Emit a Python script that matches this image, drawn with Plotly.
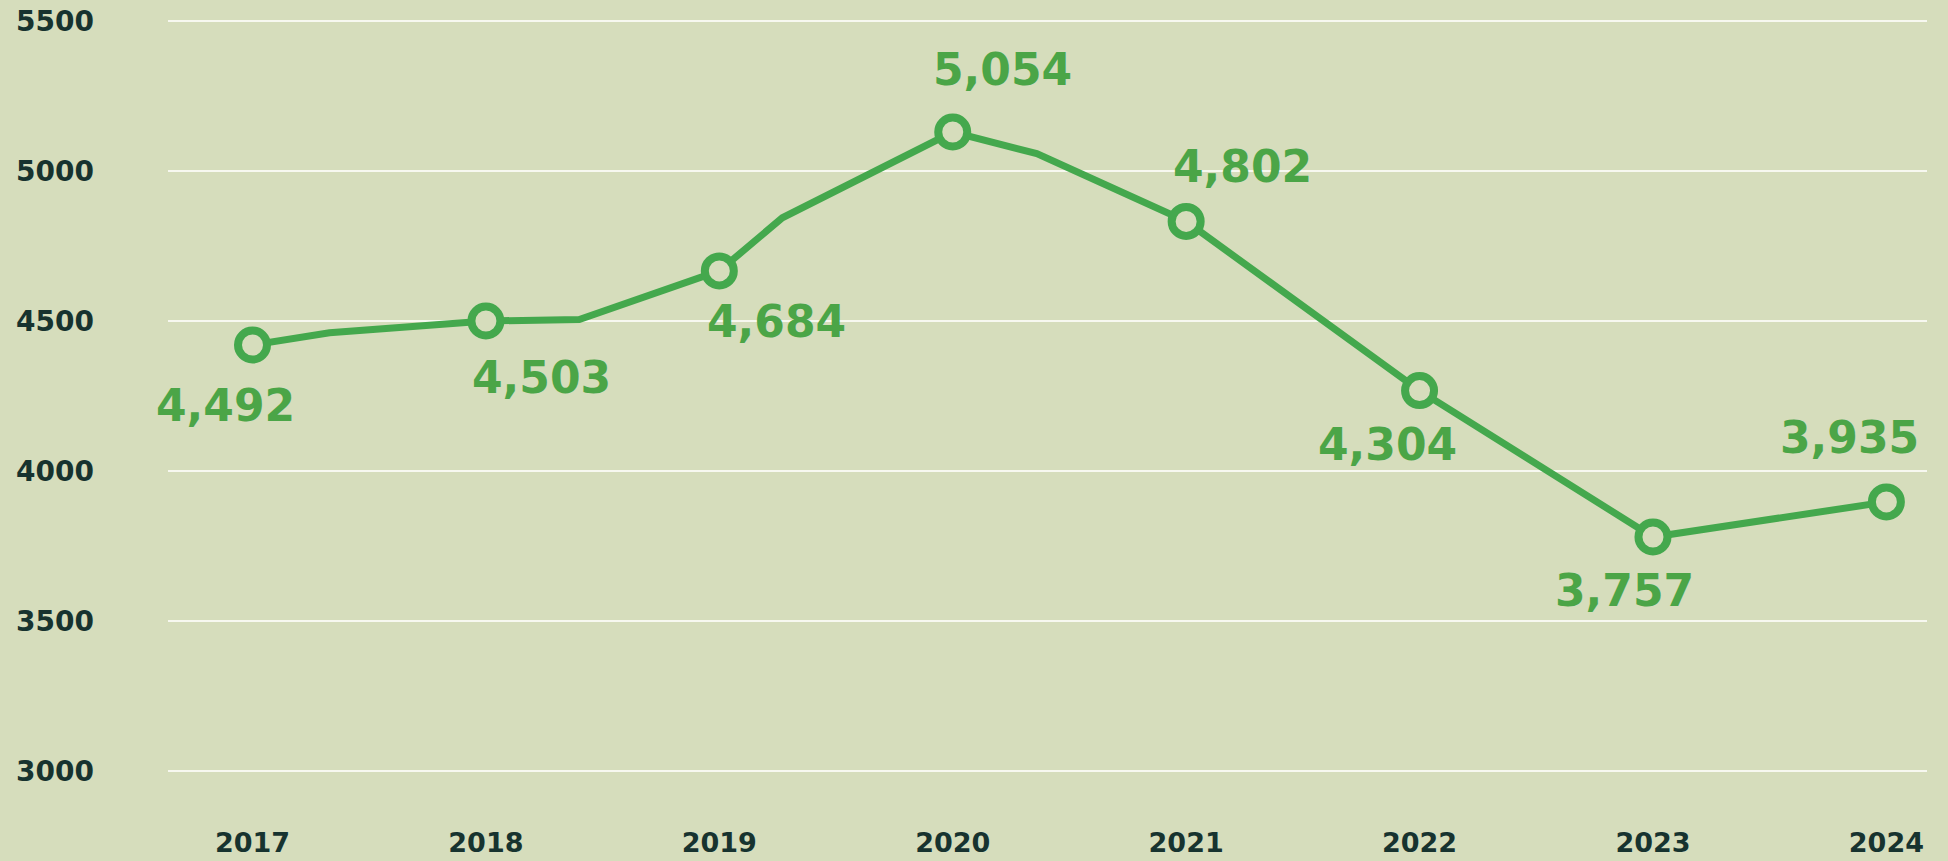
import plotly.graph_objects as go

# Data
years = [2017, 2018, 2019, 2020, 2021, 2022, 2023, 2024]
marker_values = [4420, 4500, 4667, 5130, 4832, 4268, 3780, 3897]
label_values = [4492, 4503, 4684, 5054, 4802, 4304, 3757, 3935]

# full polyline (includes the unmarked intermediate vertices)
line_x = [2017, 2017.33, 2018, 2018.40, 2019, 2019.27, 2020, 2020.36, 2021, 2022, 2023, 2024]
line_y = [4420, 4461, 4500, 4505, 4667, 4844, 5130, 5058, 4832, 4268, 3780, 3897]

y_ticks = [3000, 3500, 4000, 4500, 5000, 5500]

# styling
BG = "#d6ddbc"
LINE = "#44a84d"
TEXT_GREEN = "#4ba547"
DARK = "#17332f"
FONT = "DejaVu Sans"

label_dx = [-27, 56, 57, 50, 56, -32, -28, -37]
label_dy = [60, 56, 51, -63, -55, 54, 53, -64]  # pixels, positive = downward

fig = go.Figure()
fig.add_trace(go.Scatter(
    x=line_x, y=line_y, mode="lines",
    line=dict(color=LINE, width=7),
    hoverinfo="skip", showlegend=False,
))
fig.add_trace(go.Scatter(
    x=years, y=marker_values, mode="markers",
    marker=dict(size=29, color=BG, line=dict(color=LINE, width=8)),
    showlegend=False,
))

for yr, mv, lv, dx, dy in zip(years, marker_values, label_values, label_dx, label_dy):
    fig.add_annotation(
        x=yr, y=mv, text=f"{lv:,}", showarrow=False,
        xshift=dx, yshift=-dy, xanchor="center", yanchor="middle",
        font=dict(family=FONT, size=44, color=TEXT_GREEN, weight="bold"),
    )

fig.update_layout(
    width=1948, height=861,
    paper_bgcolor=BG, plot_bgcolor=BG,
    margin=dict(l=168, r=21, t=10, b=50, autoexpand=False),
    showlegend=False,
    font=dict(family=FONT, color=DARK),
)
fig.update_xaxes(
    range=[2016.638, 2024.174],
    tickmode="array", tickvals=years, ticktext=[str(y) for y in years],
    showgrid=False, zeroline=False, showline=False, automargin=False,
    tickfont=dict(family=FONT, size=27, color=DARK, weight="bold"),
    ticklabelstandoff=13,
)
fig.update_yaxes(
    range=[2866.7, 5536.7],
    tickmode="array", tickvals=y_ticks, ticktext=[str(v) for v in y_ticks],
    showgrid=True, gridcolor="#f7f8f0", gridwidth=1.5,
    zeroline=False, showline=False, automargin=False,
    tickfont=dict(family=FONT, size=28, color=DARK, weight="bold"),
    ticklabelstandoff=73,
)

fig.write_html(
    "out.html",
    config={"displayModeBar": False},
    post_script="document.body.style.margin='0';document.body.style.background='%s';" % BG,
)
